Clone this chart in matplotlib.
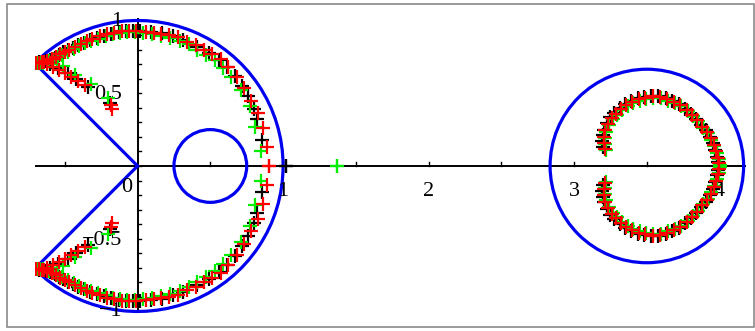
import numpy as np
import matplotlib.pyplot as plt
from matplotlib.patches import Wedge, Circle, Rectangle

# upper half of each point set (lower half is the mirror image)
# left curve, outer branch
red_outer_x = [-0.70, -0.68, -0.66, -0.64, -0.62, -0.59, -0.56, -0.53, -0.50, -0.47, -0.43, -0.39,
               -0.35, -0.31, -0.26, -0.21, -0.16, -0.11, -0.06, -0.01, 0.055, 0.11, 0.16, 0.215,
               0.28, 0.34, 0.40, 0.455, 0.51, 0.57, 0.62, 0.68, 0.73, 0.777, 0.825, 0.86, 0.89, 0.90]
red_outer_y = [0.71, 0.71, 0.712, 0.715, 0.72, 0.735, 0.75, 0.77, 0.785, 0.80, 0.82, 0.84,
               0.86, 0.875, 0.89, 0.905, 0.915, 0.925, 0.93, 0.93, 0.92, 0.915, 0.91, 0.90,
               0.886, 0.854, 0.83, 0.80, 0.77, 0.735, 0.68, 0.61, 0.536, 0.45, 0.366, 0.26, 0.13, 0.0]
black_outer_x = [-0.70, -0.68, -0.66, -0.63, -0.60, -0.57, -0.54, -0.51, -0.48, -0.445, -0.41, -0.37,
                 -0.33, -0.28, -0.23, -0.18, -0.13, -0.08, -0.03, 0.02, 0.09, 0.17, 0.24, 0.31,
                 0.41, 0.49, 0.56, 0.617, 0.67, 0.72, 0.76, 0.80, 0.823, 0.857, 1.02]
black_outer_y = [0.71, 0.712, 0.715, 0.72, 0.73, 0.745, 0.76, 0.78, 0.795, 0.81, 0.83, 0.848,
                 0.865, 0.88, 0.895, 0.91, 0.92, 0.925, 0.93, 0.93, 0.923, 0.912, 0.89, 0.865,
                 0.82, 0.775, 0.73, 0.682, 0.62, 0.55, 0.48, 0.39, 0.32, 0.18, 0.0]
green_outer_x = [-0.69, -0.67, -0.65, -0.61, -0.58, -0.55, -0.52, -0.48, -0.44, -0.40, -0.36, -0.32,
                 -0.27, -0.22, -0.17, -0.12, -0.07, -0.02, 0.04, 0.10, 0.16, 0.22, 0.29, 0.35,
                 0.41, 0.47, 0.53, 0.59, 0.64, 0.71, 0.77, 0.81, 0.845, 1.37]
green_outer_y = [0.705, 0.705, 0.71, 0.72, 0.735, 0.75, 0.765, 0.785, 0.805, 0.825, 0.845, 0.86,
                 0.875, 0.89, 0.905, 0.915, 0.92, 0.92, 0.915, 0.905, 0.895, 0.88, 0.86, 0.835,
                 0.80, 0.765, 0.725, 0.675, 0.614, 0.52, 0.41, 0.27, 0.10, 0.0]

# left curve, inner branch
red_inner_x = [-0.62, -0.58, -0.54, -0.50, -0.46, -0.41, -0.36, -0.18, -0.175]
red_inner_y = [0.70, 0.68, 0.66, 0.64, 0.615, 0.585, 0.56, 0.42, 0.395]
black_inner_x = [-0.60, -0.55, -0.48, -0.42, -0.34, -0.19]
black_inner_y = [0.70, 0.675, 0.64, 0.60, 0.54, 0.43]
green_inner_x = [-0.58, -0.51, -0.43, -0.32, -0.20]
green_inner_y = [0.70, 0.69, 0.625, 0.565, 0.465]

# right ring
red_ring_x = [3.21, 3.205, 3.205, 3.215, 3.235, 3.26, 3.285, 3.32, 3.36, 3.40, 3.445, 3.49, 3.54,
              3.59, 3.64, 3.685, 3.73, 3.775, 3.81, 3.845, 3.88, 3.915, 3.94, 3.96, 3.975, 3.99, 3.995]
red_ring_y = [0.12, 0.16, 0.20, 0.245, 0.29, 0.33, 0.36, 0.39, 0.42, 0.44, 0.46, 0.47, 0.48,
              0.475, 0.46, 0.44, 0.42, 0.385, 0.35, 0.315, 0.27, 0.235, 0.19, 0.145, 0.10, 0.055, 0.02]
black_ring_x = [3.20, 3.195, 3.197, 3.207, 3.225, 3.25, 3.277, 3.312, 3.352, 3.393, 3.438, 3.483, 3.53,
                3.58, 3.63, 3.675, 3.72, 3.765, 3.80, 3.835, 3.87, 3.905, 3.932, 3.952, 3.968, 3.982, 3.99]
black_ring_y = [0.13, 0.17, 0.21, 0.25, 0.295, 0.335, 0.367, 0.398, 0.425, 0.447, 0.465, 0.476, 0.483,
                0.48, 0.468, 0.45, 0.428, 0.395, 0.36, 0.325, 0.28, 0.245, 0.20, 0.155, 0.11, 0.065, 0.025]
green_ring_x = [3.218, 3.213, 3.212, 3.222, 3.242, 3.267, 3.294, 3.328, 3.367, 3.408, 3.452, 3.497, 3.545,
                3.595, 3.645, 3.69, 3.735, 3.78, 3.815, 3.85, 3.885, 3.918, 3.944, 3.964, 3.98, 3.995, 4.0]
green_ring_y = [0.11, 0.15, 0.19, 0.235, 0.28, 0.32, 0.352, 0.382, 0.41, 0.432, 0.45, 0.462, 0.47,
                0.466, 0.45, 0.432, 0.41, 0.376, 0.342, 0.306, 0.262, 0.226, 0.182, 0.136, 0.092, 0.047, 0.01]

x_ticks = [-0.5, 0.5, 1, 1.5, 2, 2.5, 3, 3.5, 4]
x_labels = ['1', '2', '3', '4']
y_ticks = np.round(np.arange(-1.0, 1.01, 0.1), 2)
y_labels = ['1', '0.5', '-0.5', '-1']


def full(xs, ys):
    # add the mirrored lower half
    x = np.array(xs, dtype=float)
    y = np.array(ys, dtype=float)
    return np.r_[x, x], np.r_[y, -y]


plt.rcParams['font.family'] = ['Liberation Serif', 'DejaVu Serif']

fig = plt.figure(figsize=(7.55, 3.31), dpi=100)
ax = fig.add_axes([35 / 755, 0.0502, 710.8 / 755, 0.8967])
ax.set_xlim(-0.705, 4.18)
ax.set_ylim(-1.02, 1.02)
ax.axis('off')

# frame around the picture
fig.patches.append(Rectangle((7 / 755, 4 / 331), 747 / 755, 323 / 331, transform=fig.transFigure,
                             fill=False, edgecolor='#8a8a8a', linewidth=1.2))

# axes lines and ticks
ax.plot([-0.705, 4.18], [0, 0], color='black', lw=1.4, zorder=1)
ax.plot([0, 0], [-1.0, 1.01], color='black', lw=1.4, zorder=1)
for t in x_ticks:
    ax.plot([t, t], [0, 0.03], color='black', lw=1.0, zorder=1)
for t in y_ticks:
    ax.plot([0, 0.022], [t, t], color='black', lw=1.0, zorder=1)

fs = 16
ax.text(-0.075, -0.15, '0', fontsize=fs, ha='center', va='center')
for i, lab in enumerate(x_labels):
    ax.text(i + 1, -0.175, lab, fontsize=fs, ha='center', va='center')
for v, lab in zip([0.99, 0.49, -0.51, -1.0], y_labels):
    ax.text(-0.105, v, lab.replace('-', '\u2212'), fontsize=fs, ha='right', va='center')

# blue shapes
blue = '#0000f0'
ax.add_patch(Wedge((0, 0), 1.0, -135, 135, fill=False, edgecolor=blue, lw=2.3, zorder=2))
ax.add_patch(Circle((0.5, 0), 0.25, fill=False, edgecolor=blue, lw=2.3, zorder=2))
ax.add_patch(Circle((3.5, 0), 0.665, fill=False, edgecolor=blue, lw=2.3, zorder=2))

mk = dict(marker='+', linestyle='none', markersize=9.5, markeredgewidth=1.6, zorder=3)
sets = [
    ('black', [(black_outer_x, black_outer_y), (black_inner_x, black_inner_y), (black_ring_x, black_ring_y)]),
    ('#00ee00', [(green_outer_x, green_outer_y), (green_inner_x, green_inner_y), (green_ring_x, green_ring_y)]),
    ('#ff0000', [(red_outer_x, red_outer_y), (red_inner_x, red_inner_y), (red_ring_x, red_ring_y)]),
]
for col, parts in sets:
    for xs, ys in parts:
        x, y = full(xs, ys)
        ax.plot(x, y, color=col, **mk)

fig.savefig('out.png', dpi=100)
